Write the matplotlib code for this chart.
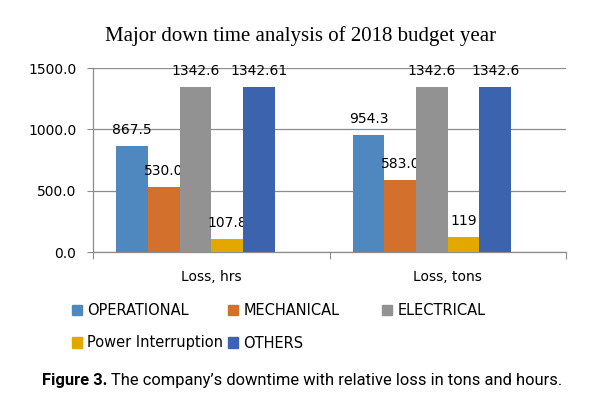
import matplotlib
matplotlib.use("Agg")
import matplotlib.pyplot as plt
import numpy as np
from matplotlib.patches import Patch

# data
categories = ["Loss, hrs", "Loss, tons"]
series_names = ["OPERATIONAL", "MECHANICAL", "ELECTRICAL", "Power Interruption", "OTHERS"]
operational = [867.5, 954.3]
mechanical = [530.0, 583.0]
electrical = [1342.6, 1342.6]
power_interruption = [107.8, 119]
others = [1342.61, 1342.6]
value_labels = [["867.5", "954.3"], ["530.0", "583.0"], ["1342.6", "1342.6"],
                ["107.8", "119"], ["1342.61", "1342.6"]]
y_ticks = [0, 500, 1000, 1500]

colors = ["#4F88BE", "#D2702C", "#929292", "#E2A800", "#3C64AE"]
grey = "#8c8c8c"
fs = 10

fig = plt.figure(figsize=(5.98, 3.97), dpi=100)
ax = fig.add_axes([93 / 598, 1 - 252 / 397, 473 / 598, 184 / 397])

series = [operational, mechanical, electrical, power_interruption, others]
x = np.arange(len(categories))
bw = 0.134
# Excel left room for a sixth (empty) slot, so the group sits left of centre
for i, vals in enumerate(series):
    pos = x + (i - 2.5) * bw
    bars = ax.bar(pos, vals, width=bw, color=colors[i], zorder=3)
    for b, lab in zip(bars, value_labels[i]):
        ax.annotate(lab, (b.get_x() + b.get_width() / 2, b.get_height()),
                    xytext=(0, 6.5), textcoords="offset points",
                    ha="center", va="bottom", fontsize=fs,
                    annotation_clip=False)

ax.set_xlim(-0.5, 1.5)
ax.set_ylim(0, 1500)
ax.set_yticks(y_ticks)
ax.set_yticklabels([f"{v:.1f}" for v in y_ticks], fontsize=fs)
ax.yaxis.grid(True, color=grey, lw=0.9, zorder=0)
ax.tick_params(axis="y", length=4, color=grey, pad=8)

ax.set_xticks([-0.5, 0.5, 1.5])
ax.set_xticklabels([])
ax.set_xticks(x, minor=True)
ax.set_xticklabels(categories, minor=True, fontsize=fs)
ax.tick_params(axis="x", which="major", length=5, color=grey)
ax.tick_params(axis="x", which="minor", length=0, pad=13)

for s in ["top", "right"]:
    ax.spines[s].set_visible(False)
for s in ["left", "bottom"]:
    ax.spines[s].set_color(grey)
    ax.spines[s].set_linewidth(0.9)

fig.text(0.503, 1 - 36 / 397, "Major down time analysis of 2018 budget year",
         ha="center", va="center", family="Liberation Serif", fontsize=15)

# legend as three columns placed like the Excel one
handles = [Patch(color=c) for c in colors]
columns = [([0, 3], 72), ([1, 4], 228), ([2], 382)]
for idx, xpix in columns:
    fig.legend([handles[k] for k in idx], [series_names[k] for k in idx],
               loc="upper left", bbox_to_anchor=(xpix / 598, 1 - 303 / 397),
               frameon=False, fontsize=10.5, borderpad=0, borderaxespad=0,
               handlelength=0.7, handleheight=0.7, handletextpad=0.35,
               labelspacing=1.2)

# caption with bold lead-in, sized to span the same width as the reference
renderer = fig.canvas.get_renderer()
cap_font = "Roboto"
cap_size = 13
cap_y = 1 - 380 / 397
t1 = fig.text(42 / 598, cap_y, "Figure 3.", fontweight="bold", family=cap_font,
              fontsize=cap_size, va="center", ha="left")
t2 = fig.text(0, cap_y,
              "The company\u2019s downtime with relative loss in tons and hours.",
              family=cap_font, fontsize=cap_size, va="center", ha="left")
w = t1.get_window_extent(renderer).width + 4 + t2.get_window_extent(renderer).width
cap_size = cap_size * 521 / w
t1.set_fontsize(cap_size)
t2.set_fontsize(cap_size)
bb = t1.get_window_extent(renderer)
t2.set_x((bb.x1 + 4 * cap_size / 13) / fig.bbox.width)

fig.savefig("out.png", dpi=100)
